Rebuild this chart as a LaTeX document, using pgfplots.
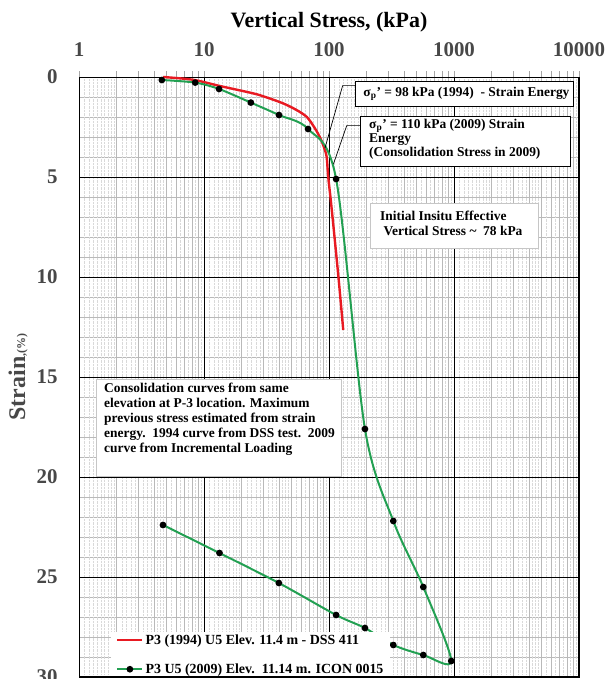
\documentclass[border=0pt]{standalone}
\usepackage{fontspec}
\setmainfont{Liberation Serif}
\usepackage{pgfplots}
\pgfplotsset{compat=1.18}
\usetikzlibrary{calc}
\definecolor{cred}{RGB}{232,26,34}
\definecolor{cgreen}{RGB}{34,160,82}
\definecolor{tickgray}{RGB}{72,72,72}
\tikzset{
  note/.style={font=\fontsize{13.5}{15}\selectfont\bfseries,align=left,inner sep=0pt},
  fine/.style={gray!30,densely dotted,line width=0.4bp},
  majg/.style={black,line width=0.9bp},
}

\begin{document}
\begin{tikzpicture}
\begin{axis}[name=ax, scale only axis, width=500bp, height=600bp, clip=false,
  xmode=log, log basis x=10, xmin=1, xmax=10000,
  ymin=0, ymax=30, y dir=reverse,
  xtick={10,100,1000,10000}, xticklabels={10,100,1000,10000},
  extra x ticks={1}, extra x tick labels={1},
  extra x tick style={grid style={gray!70,line width=0.6bp}},
  minor xtick={2,3,4,5,6,7,8,9,20,30,40,50,60,70,80,90,200,300,400,500,600,700,800,900,2000,3000,4000,5000,6000,7000,8000,9000},
  ytick={5,10,15,20,25,30}, extra y ticks={0},
  extra y tick style={grid style={gray!70,line width=0.6bp}},
  minor ytick={1,2,3,4,6,7,8,9,11,12,13,14,16,17,18,19,21,22,23,24,26,27,28,29},
  grid=both,
  major grid style={black,line width=0.9bp},
  minor grid style={gray!55,line width=0.5bp},
  axis line style={gray!70,line width=0.6bp},
  xtick pos=upper, xticklabel pos=upper, tick align=outside,
  major tick length=6bp, minor tick length=6bp,
  xtick style={gray!70,line width=0.6bp},
  ytick style={draw=none}, minor y tick style={draw=none},
  ticklabel style={font=\fontsize{21}{24}\selectfont\bfseries, text=tickgray},
  xticklabel style={yshift=11bp},
  yticklabel style={xshift=-12bp},
  /pgf/number format/assume math mode=true,
  legend style={at={(0.064,0.0)}, anchor=south west, draw=none, fill=white,
    font=\fontsize{14}{16}\selectfont\bfseries, row sep=14bp, inner xsep=5bp, inner ysep=0bp},
  legend cell align=left,
  legend image code/.code={\draw[mark repeat=2,mark phase=2,#1] plot coordinates {(0bp,0bp) (12.5bp,0bp) (25bp,0bp)};},
]
% fine sub-grid of the log paper, then the major lines again over it
\foreach \d in {1,10,100,1000}{
  \foreach \k in {1.1,1.2,1.3,1.4,1.5,1.6,1.7,1.8,1.9,2.2,2.4,2.6,2.8,3.25,3.5,3.75,4.25,4.5,4.75,5.5,6.5,7.5,8.5,9.5}{
    \pgfmathsetmacro\v{\k*\d}
    \edef\tmp{\noexpand\draw[fine] (axis cs:\v,0.1) -- (axis cs:\v,29.9);}\tmp
  }}
\foreach \s in {5,10,15,20,25}{
  \edef\tmp{\noexpand\draw[majg] (axis cs:1,\s) -- (axis cs:10000,\s);}\tmp}
\foreach \d in {10,100,1000}{
  \edef\tmp{\noexpand\draw[majg] (axis cs:\d,0) -- (axis cs:\d,30);}\tmp}

\addplot[cred, line width=2.4bp, smooth] coordinates {
 (4.7,0.0) (8.2,0.14) (13.4,0.45) (24.8,0.82) (31.7,1.02) (43,1.32) (55,1.65)
 (66.5,2.0) (76,2.5) (84.4,3.0) (91,3.5) (95.8,4.0) (98.6,5.0) (104.7,6.5)
 (119,10.0) (130,12.65)};
\addlegendentry{P3 (1994) U5 Elev. 11.4 m - DSS 411}
\addplot[cgreen, line width=2bp, smooth, mark=*, mark size=2.3bp,
  mark options={fill=black,draw=black,solid}] coordinates {
 (4.6,0.15) (8.5,0.28) (13.2,0.6) (23.7,1.28) (39.8,1.9) (68,2.6) (114,5.1)
 (194,17.6) (327,22.2) (568,25.5) (951,29.2)
 (568,28.9) (327,28.4) (194,27.55) (114,26.9) (39.7,25.3) (13.3,23.8) (4.7,22.4)};
\addlegendentry{P3 U5 (2009) Elev.\ \ 11.14 m. ICON 0015}

% notes
\draw[black,line width=0.7bp] (axis cs:161.5,0.43) -- (axis cs:128.6,0.43) -- (axis cs:92.9,3.55);
\draw[black,line width=0.7bp] (axis cs:177,2.43) -- (axis cs:138.6,2.43) -- (axis cs:108.6,4.35);
\draw[black,line width=0.9bp,fill=white] (axis cs:161.5,0.235) rectangle (axis cs:8954,1.485);
\node[note,anchor=west] at (axis cs:188,0.86) {σ\textsubscript{p}' = 98 kPa (1994)\ \ - Strain Energy};
\draw[black,line width=0.9bp,fill=white] (axis cs:177,1.95) rectangle (axis cs:8472,4.485);
\node[note,anchor=north west,font=\fontsize{13.5}{14}\selectfont\bfseries] at (axis cs:209,2.1)
  {σ\textsubscript{p}' = 110 kPa (2009) Strain\\ Energy\\ (Consolidation Stress in 2009)};
\draw[gray!45,line width=0.9bp,fill=white] (axis cs:213,6.315) rectangle (axis cs:4725,8.565);
\node[note,anchor=west,font=\fontsize{13.5}{14.7}\selectfont\bfseries] at (axis cs:256,7.32)
  {Initial Insitu Effective\\ \ Vertical Stress \textasciitilde\ \ 78 kPa};
\draw[gray!45,line width=0.9bp,fill=white] (axis cs:1.375,15.1) rectangle (axis cs:126.4,19.98);
\node[note,anchor=north west,font=\fontsize{13.5}{15}\selectfont\bfseries] at (axis cs:1.585,15.3)
  {Consolidation curves from same\\ elevation at P-3 location. Maximum\\ previous stress estimated from strain\\
   energy.\ \ 1994 curve from DSS test.\ \ 2009\\ curve from Incremental Loading};
\end{axis}
\draw[black,line width=1.6bp] (ax.south west) -- (ax.south east) -- (ax.north east);
\node[anchor=base,font=\fontsize{22}{24}\selectfont\bfseries] at ($(ax.north)+(0,49bp)$) {Vertical Stress, (kPa)};
\node[rotate=90,text=tickgray,font=\fontsize{24}{26}\selectfont\bfseries] at ($(ax.west)+(-61bp,0)$)
  {Strain{\fontsize{12}{12}\selectfont,(\%)}};
\pgfresetboundingbox
\path[use as bounding box] ($(ax.south west)+(-79bp,-2bp)$) rectangle ($(ax.north east)+(30bp,77bp)$);
\end{tikzpicture}
\end{document}
